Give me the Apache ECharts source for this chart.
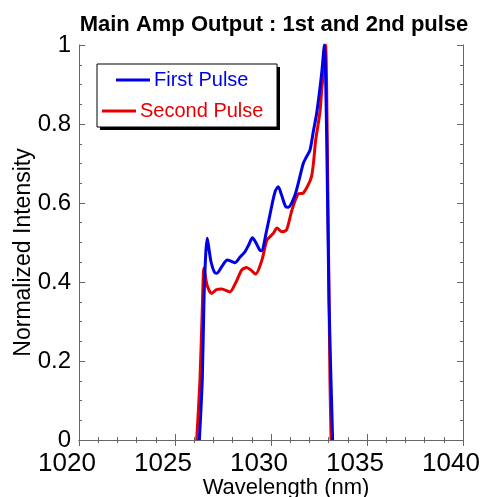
<!DOCTYPE html>
<html><head><meta charset="utf-8">
<script src="https://cdn.jsdelivr.net/npm/echarts@6/dist/echarts.min.js"></script>
<style>html,body{margin:0;padding:0;background:#fff}#c{width:483px;height:497px}</style>
</head><body><div id="c"></div>
<script>
var titleText = 'Main Amp Output : 1st and 2nd pulse';
var xName = 'Wavelength (nm)';
var yName = 'Normalized Intensity';
var seriesNames = ['First Pulse', 'Second Pulse'];
var firstWl = [1026.27,1026.42,1026.51,1026.60,1026.68,1026.78,1026.88,1027.05,1027.17,1027.45,1027.72,1027.95,1028.13,1028.39,1028.65,1028.85,1029.03,1029.22,1029.40,1029.50,1029.78,1030.05,1030.22,1030.38,1030.55,1030.75,1030.90,1031.25,1031.68,1031.85,1032.03,1032.20,1032.38,1032.64,1032.78,1032.90,1033.02,1033.21];
var firstVal = [0,0.152,0.354,0.47,0.511,0.48,0.45,0.425,0.422,0.44,0.456,0.452,0.449,0.463,0.477,0.495,0.512,0.499,0.482,0.479,0.532,0.595,0.630,0.641,0.62,0.592,0.589,0.62,0.700,0.717,0.734,0.78,0.828,0.929,1.0,0.765,0.354,0];
var secondWl = [1026.13,1026.30,1026.42,1026.51,1026.67,1026.91,1027.14,1027.43,1027.86,1028.18,1028.47,1028.73,1028.96,1029.20,1029.53,1029.79,1030.12,1030.31,1030.57,1030.81,1031.09,1031.42,1031.68,1032.11,1032.33,1032.55,1032.64,1032.71,1032.84,1032.93,1033.07,1033.13];
var secondVal = [0,0.152,0.33,0.435,0.392,0.371,0.38,0.382,0.375,0.40,0.430,0.437,0.43,0.420,0.456,0.506,0.523,0.537,0.527,0.532,0.582,0.623,0.625,0.667,0.76,0.83,0.886,0.92,1.0,0.765,0.152,0];

function zip(a,b){return a.map(function(v,i){return [v,b[i]];});}
var BLUE='#0000e6', RED='#e60000';
var FONT='Liberation Sans, Arial, sans-serif';
var axisLine={show:true,lineStyle:{color:'#666',width:1}};
var chart = echarts.init(document.getElementById('c'));
chart.setOption({
  animation:false,
  backgroundColor:'#fff',
  title:{text:titleText,left:269,textAlign:'center',top:9,textStyle:{fontFamily:FONT,fontSize:22,fontWeight:'bold',color:'#000'}},
  grid:{left:79,right:20,top:45,bottom:57,containLabel:false,outerBoundsMode:'none'},
  xAxis:[{type:'value',min:1020,max:1040,interval:5,position:'bottom',
    name:xName,nameLocation:'middle',nameGap:37,nameMoveOverlap:false,
    nameTextStyle:{fontFamily:FONT,fontSize:22,color:'#000',padding:[0,0,0,30]},
    axisLine:axisLine,axisTick:{inside:true,length:6,lineStyle:{color:'#666'}},
    minorTick:{show:true,splitNumber:5,length:3,lineStyle:{color:'#666'}},
    splitLine:{show:false},
    axisLabel:{fontFamily:FONT,fontSize:26,color:'#000',margin:11,padding:[0,24,0,0],formatter:function(v){return String(v);}}},
   {type:'value',min:1020,max:1040,interval:5,position:'top',
    axisLine:axisLine,axisTick:{inside:true,length:6,lineStyle:{color:'#666'}},
    minorTick:{show:true,splitNumber:5,length:3,lineStyle:{color:'#666'}},
    splitLine:{show:false},axisLabel:{show:false}}],
  yAxis:[{type:'value',min:0,max:1,interval:0.2,position:'left',
    name:yName,nameLocation:'middle',nameGap:44,nameMoveOverlap:false,
    nameTextStyle:{fontFamily:FONT,fontSize:23,color:'#000',padding:[0,20,0,0]},
    axisLine:axisLine,axisTick:{inside:true,length:6,lineStyle:{color:'#666'}},
    minorTick:{show:true,splitNumber:4,length:3,lineStyle:{color:'#666'}},
    splitLine:{show:false},
    axisLabel:{fontFamily:FONT,fontSize:24,color:'#000',margin:8}},
   {type:'value',min:0,max:1,interval:0.2,position:'right',
    axisLine:axisLine,axisTick:{inside:true,length:6,lineStyle:{color:'#666'}},
    minorTick:{show:true,splitNumber:4,length:3,lineStyle:{color:'#666'}},
    splitLine:{show:false},axisLabel:{show:false}}],
  series:[
    {name:seriesNames[1],type:'line',data:zip(secondWl,secondVal),showSymbol:false,smooth:0.25,clip:true,
     lineStyle:{color:RED,width:3},itemStyle:{color:RED},z:2},
    {name:seriesNames[0],type:'line',data:zip(firstWl,firstVal),showSymbol:false,smooth:0.25,clip:true,
     lineStyle:{color:BLUE,width:3},itemStyle:{color:BLUE},z:3}
  ],
  graphic:[
    {type:'rect',shape:{x:100,y:67,width:180,height:63},style:{fill:'#000'},z:10},
    {type:'rect',shape:{x:97,y:64,width:180,height:63},style:{fill:'#fff',stroke:'#000',lineWidth:1},z:11},
    {type:'line',shape:{x1:116,y1:80,x2:150,y2:80},style:{stroke:BLUE,lineWidth:3},z:12},
    {type:'text',x:154,y:80,style:{text:seriesNames[0],fill:BLUE,fontFamily:FONT,fontSize:20,verticalAlign:'middle'},z:12},
    {type:'line',shape:{x1:102,y1:111,x2:136,y2:111},style:{stroke:RED,lineWidth:3},z:12},
    {type:'text',x:140,y:111,style:{text:seriesNames[1],fill:RED,fontFamily:FONT,fontSize:20,verticalAlign:'middle'},z:12}
  ]
});
</script></body></html>
